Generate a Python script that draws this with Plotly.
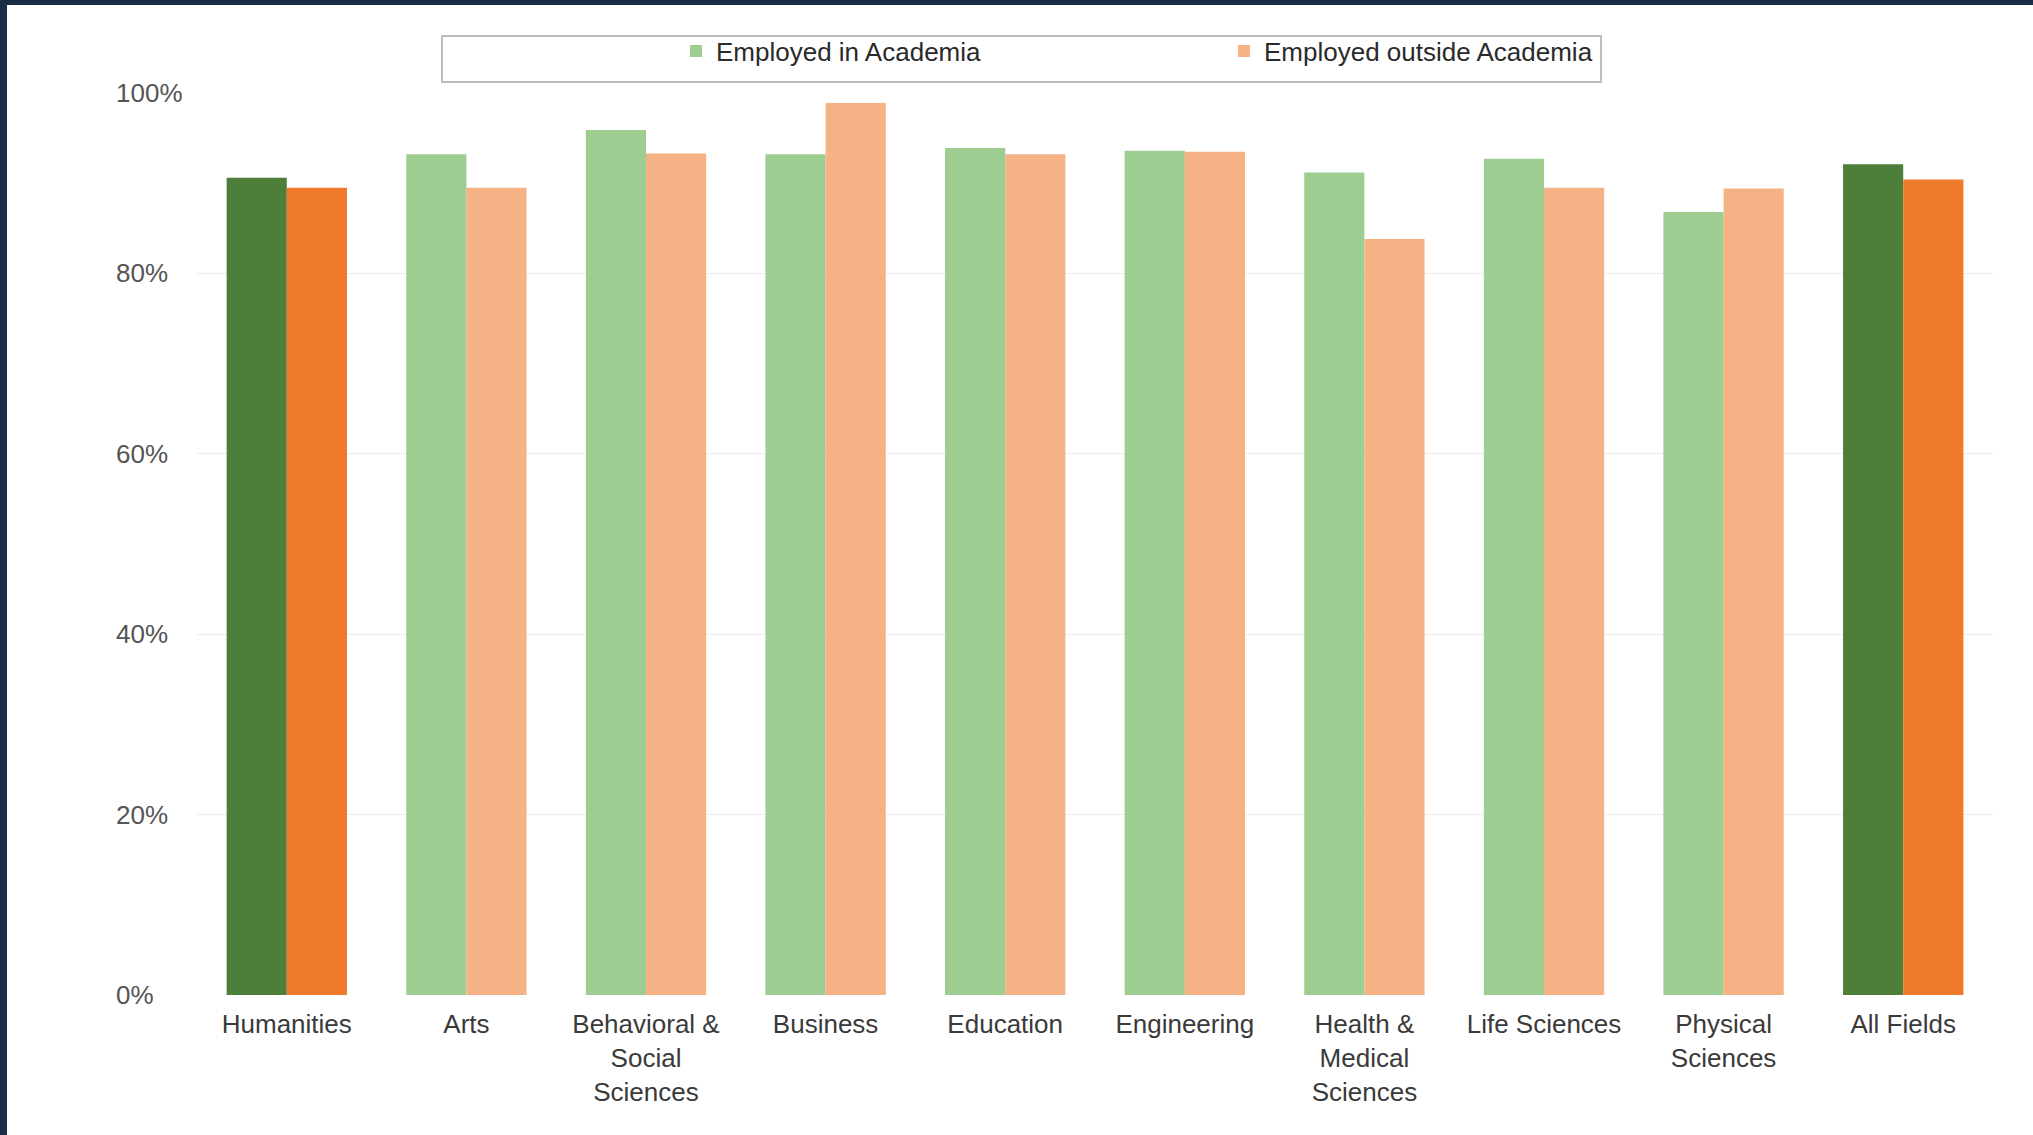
import plotly.graph_objects as go

# Share of PhD holders employed, by field
categories = [
    "Humanities", "Arts", "Behavioral &<br>Social<br>Sciences", "Business",
    "Education", "Engineering", "Health &<br>Medical<br>Sciences",
    "Life Sciences", "Physical<br>Sciences", "All Fields",
]
in_academia = [90.6, 93.2, 95.9, 93.2, 93.9, 93.6, 91.2, 92.7, 86.8, 92.1]
outside_academia = [89.5, 89.5, 93.3, 98.9, 93.2, 93.5, 83.8, 89.5, 89.4, 90.4]
highlighted = ["Humanities", "All Fields"]
y_ticks = [0, 20, 40, 60, 80, 100]

series_names = ["Employed in Academia", "Employed outside Academia"]
light_colors = ["#9ECD92", "#F5B284"]
dark_colors = ["#4E7F3A", "#EF7B2A"]

W, H = 2033, 1135
ML, MR, MT, MB = 197, 40, 93, 140
PW, PH = W - ML - MR, H - MT - MB


def px_x(x):
    return (x - ML) / PW


def px_y(y):
    return (H - MB - y) / PH


fig = go.Figure()
for i, (name, vals) in enumerate(zip(series_names, [in_academia, outside_academia])):
    reg_x = [c for c in categories if c not in highlighted]
    reg_y = [v / 100 for c, v in zip(categories, vals) if c not in highlighted]
    hi_x = [c for c in categories if c in highlighted]
    hi_y = [v / 100 for c, v in zip(categories, vals) if c in highlighted]
    fig.add_trace(go.Bar(
        x=reg_x, y=reg_y, name=name, offsetgroup=str(i),
        marker=dict(color=light_colors[i], line=dict(width=0)),
    ))
    fig.add_trace(go.Bar(
        x=hi_x, y=hi_y, name=name, offsetgroup=str(i), showlegend=False,
        marker=dict(color=dark_colors[i], line=dict(width=0)),
    ))

font_family = "Liberation Sans, Arial, sans-serif"

fig.update_layout(
    width=W, height=H, autosize=False,
    margin=dict(l=ML, r=MR, t=MT, b=MB, pad=0),
    paper_bgcolor="white", plot_bgcolor="white",
    barmode="group", bargap=0.33, bargroupgap=0,
    font=dict(family=font_family, size=26, color="#3a3a3a"),
    showlegend=True,
    legend=dict(
        orientation="h", x=px_x(676), xanchor="left", y=px_y(51), yanchor="middle",
        bgcolor="rgba(0,0,0,0)", borderwidth=0,
        entrywidth=503, entrywidthmode="pixels",
        font=dict(size=26, color="#2a2a2a"), traceorder="normal",
    ),
    xaxis=dict(
        type="category", categoryorder="array", categoryarray=categories,
        range=[-0.5, len(categories) - 0.5],
        showgrid=False, zeroline=False, showline=False, ticks="",
        tickfont=dict(size=26, color="#3a3a3a"), ticklabelstandoff=11,
        tickangle=0,
    ),
    yaxis=dict(
        range=[0, 1], tickvals=[t / 100 for t in y_ticks], showticklabels=False,
        showgrid=True, gridcolor="#ececec", gridwidth=1, zeroline=False,
        showline=False, ticks="",
    ),
)

# y tick labels, left aligned
for t in y_ticks:
    fig.add_annotation(
        x=px_x(114), xref="paper", xanchor="left", y=t / 100, yref="y", yanchor="middle",
        text=f"{t}%", showarrow=False, font=dict(size=26, color="#555555"),
    )

# legend frame
fig.add_shape(
    type="rect", xref="paper", yref="paper",
    x0=px_x(442), x1=px_x(1601), y0=px_y(82), y1=px_y(36),
    line=dict(color="#bdbdbd", width=2), fillcolor="rgba(0,0,0,0)", layer="below",
)

# dark page frame on the left and top edges
frame = "#1B2D44"
fig.add_shape(type="rect", xref="paper", yref="paper",
              x0=px_x(0), x1=px_x(7), y0=px_y(H), y1=px_y(0),
              line=dict(width=0), fillcolor=frame, layer="above")
fig.add_shape(type="rect", xref="paper", yref="paper",
              x0=px_x(0), x1=px_x(W), y0=px_y(5), y1=px_y(0),
              line=dict(width=0), fillcolor=frame, layer="above")

fig.write_html("out.html")
